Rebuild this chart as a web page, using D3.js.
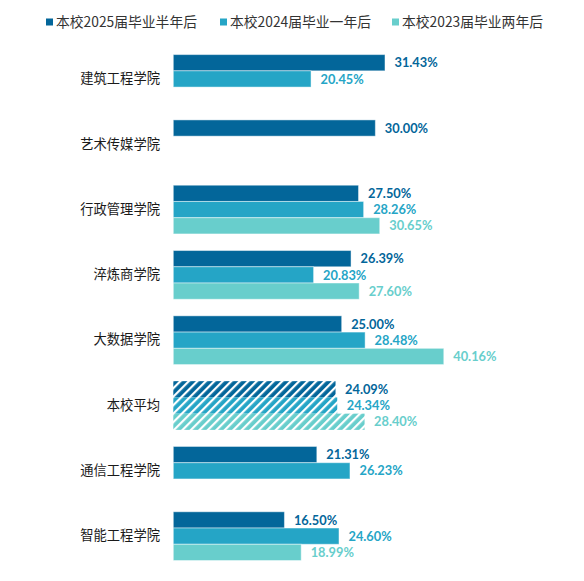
<!DOCTYPE html>
<html><head><meta charset="utf-8">
<script src="https://cdn.jsdelivr.net/npm/d3@7"></script>
<style>body{margin:0;background:#fff}svg{display:block}</style>
</head><body><svg id="c" width="584" height="581"></svg>
<script>
const categories = ["建筑工程学院","艺术传媒学院","行政管理学院","淬炼商学院","大数据学院","本校平均","通信工程学院","智能工程学院"];
const seriesNames = ["本校2025届毕业半年后","本校2024届毕业一年后","本校2023届毕业两年后"];
const s2025 = [31.43, 30.00, 27.50, 26.39, 25.00, 24.09, 21.31, 16.50];
const s2024 = [20.45, null, 28.26, 20.83, 28.48, 24.34, 26.23, 24.60];
const s2023 = [null, null, 30.65, 27.60, 40.16, 28.40, null, 18.99];
const colors = ["#03669A","#25A5C6","#68CECC"];
const hatchedCategory = "本校平均";

const svg = d3.select("#c");
const font = "Lato, 'Noto Sans CJK SC', sans-serif";
const cjk = "'Noto Sans CJK SC', sans-serif";

const x = d3.scaleLinear().domain([0, 1]).range([173.3, 173.3 + 6.735]);
const y = d3.scaleBand().domain(categories).range([46.3, 568.8]).paddingInner(0.254).paddingOuter(0.127);
const ySub = d3.scaleBand().domain([0,1,2]).range([0, y.bandwidth()]);

const defs = svg.append("defs");
colors.forEach((c,i)=>{
  const p = defs.append("pattern").attr("id","h"+i).attr("patternUnits","userSpaceOnUse")
    .attr("width",6).attr("height",6).attr("patternTransform","rotate(45)");
  p.append("rect").attr("width",6).attr("height",6).attr("fill",c);
  p.append("rect").attr("x",0).attr("width",2.2).attr("height",6).attr("fill","#fff");
});

const series = [s2025, s2024, s2023];
const g = svg.append("g");
series.forEach((vals, si) => {
  const data = categories.map((c,i)=>({c, v: vals[i]})).filter(d=>d.v!=null);
  g.selectAll(null).data(data).enter().append("rect")
    .attr("x", x(0))
    .attr("y", d => y(d.c) + ySub(si))
    .attr("width", d => x(d.v) - x(0))
    .attr("height", ySub.bandwidth())
    .attr("fill", d => d.c === hatchedCategory ? `url(#h${si})` : colors[si])
    .attr("stroke", d => d.c === hatchedCategory ? "none" : "rgba(255,255,255,0.45)")
    .attr("stroke-width", 1);
  g.selectAll(null).data(data).enter().append("text")
    .attr("x", d => x(d.v) + 9.5)
    .attr("y", d => y(d.c) + ySub(si) + ySub.bandwidth()/2)
    .attr("dy", "0.36em")
    .attr("fill", colors[si])
    .attr("font-family", font).attr("font-weight", "bold").attr("font-size", 12.8)
    .text(d => d.v.toFixed(2) + "%");
});

// category axis
const yAxis = d3.axisLeft(y).tickSize(0).tickPadding(0);
const ax = svg.append("g").attr("transform", "translate(160,0)").call(yAxis);
ax.select(".domain").remove();
ax.selectAll("text").attr("font-family", cjk).attr("font-size", 13.3).attr("fill", "#1a1a1a");

// legend
const legX = [46, 220, 392];
const leg = svg.append("g");
seriesNames.forEach((n,i)=>{
  leg.append("rect").attr("x", legX[i]).attr("y", 18.5).attr("width", 7).attr("height", 7).attr("fill", colors[i]);
  leg.append("text").attr("x", legX[i] + 10).attr("y", 22).attr("dy","0.36em")
    .attr("font-family", cjk).attr("font-size", 13.8).attr("fill", "#333").text(n);
});
</script></body></html>
